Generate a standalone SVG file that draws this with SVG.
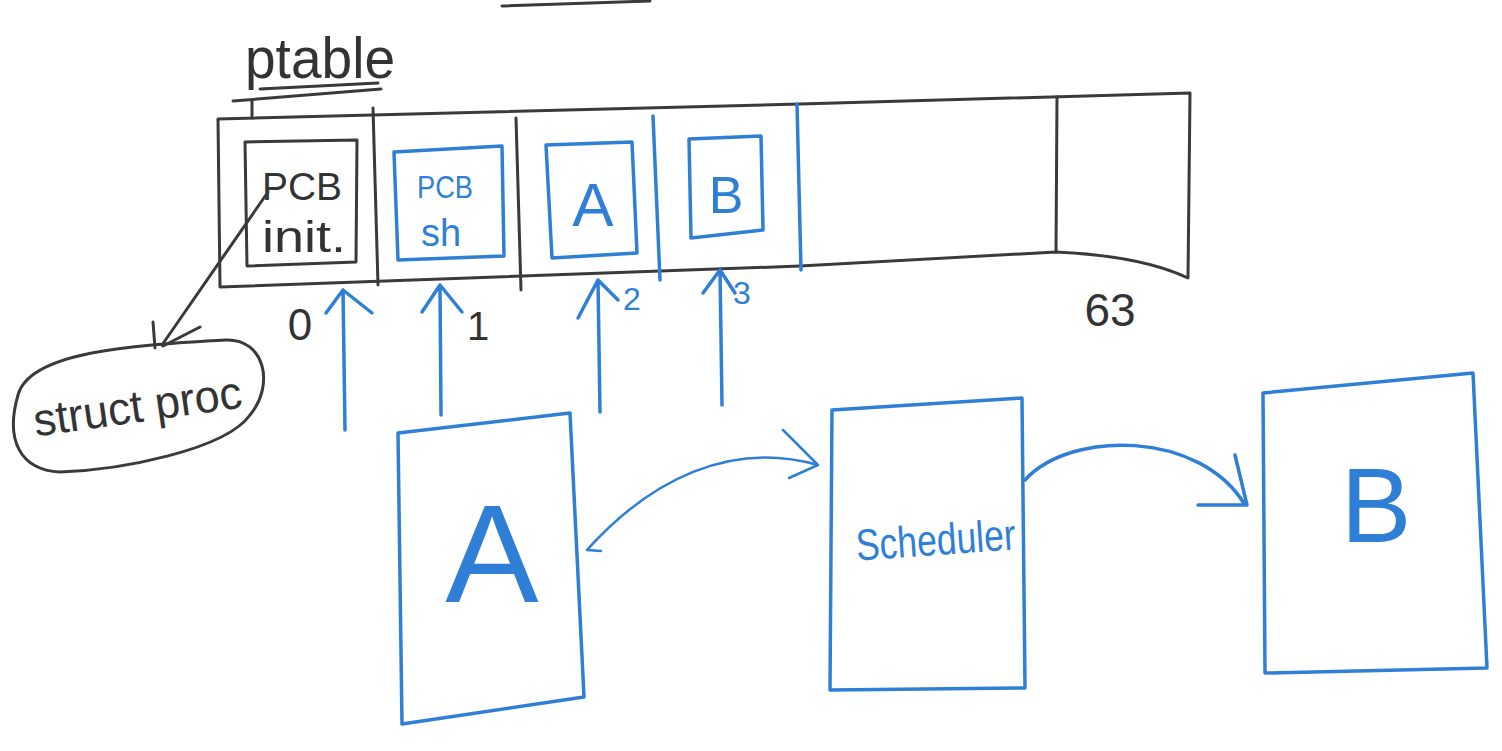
<svg xmlns="http://www.w3.org/2000/svg" width="1502" height="751" viewBox="0 0 1502 751">
<defs>
<style>
.k{fill:none;stroke:#3a3a3a;stroke-width:3;stroke-linecap:round;stroke-linejoin:round}
.b{fill:none;stroke:#2f7fd6;stroke-width:3.5;stroke-linecap:round;stroke-linejoin:round}
.bt{fill:none;stroke:#2f7fd6;stroke-width:2.5;stroke-linecap:round;stroke-linejoin:round}
.tk{font-family:"Liberation Sans",Arial,sans-serif;fill:#333}
.tb{font-family:"Liberation Sans",Arial,sans-serif;fill:#2f7fd6}
</style>
</defs>
<rect width="1502" height="751" fill="#ffffff"/>
<path class="k" d="M502 6 L650 1" stroke-width="2.5"/>
<g id="ptable-title">
<text class="tk" x="245" y="78" font-size="58" textLength="150" lengthAdjust="spacingAndGlyphs">ptable</text>
<path class="k" d="M260 89 L378 83 M233 101 L381 89 M252 101 L252 118"/>
</g>
<g id="ptable">
<path class="k" d="M218 119 L800 104 L1190 93 L1188 278 C1150 260 1100 254 1056 252 L800 266 L220 287 Z"/>
<path class="k" d="M373 108 L378 285 M516 118 L521 290 M1057 97 L1056 252"/>
<path class="b" d="M653 116 L660 280 M797 104 L801 270"/>
</g>
<g id="pcb-init">
<path class="k" d="M245 142 L357 140 L356 262 L247 266 Z"/>
<text class="tk" x="302" y="200" font-size="38" text-anchor="middle" textLength="80" lengthAdjust="spacingAndGlyphs">PCB</text>
<text class="tk" x="304" y="252" font-size="44" text-anchor="middle" textLength="84" lengthAdjust="spacingAndGlyphs">init.</text>
</g>
<g id="pcb-sh">
<path class="b" d="M394 152 L502 146 L504 256 L398 260 Z"/>
<text class="tb" x="445" y="198" font-size="32" text-anchor="middle" textLength="56" lengthAdjust="spacingAndGlyphs">PCB</text>
<text class="tb" x="441" y="246" font-size="38" text-anchor="middle">sh</text>
</g>
<g id="pcb-a">
<path class="b" d="M546 145 L632 142 L637 253 L552 258 Z"/>
<text class="tb" x="593" y="226" font-size="62" text-anchor="middle">A</text>
</g>
<g id="pcb-b">
<path class="b" d="M689 139 L761 136 L763 230 L691 238 Z"/>
<text class="tb" x="726" y="213" font-size="52" text-anchor="middle">B</text>
</g>
<g id="labels">
<text class="tk" x="300" y="340" font-size="44" text-anchor="middle">0</text>
<text class="tk" x="478" y="340" font-size="40" text-anchor="middle">1</text>
<text class="tb" x="632" y="310" font-size="32" text-anchor="middle">2</text>
<text class="tb" x="742" y="304" font-size="32" text-anchor="middle">3</text>
<text class="tk" x="1110" y="326" font-size="46" text-anchor="middle">63</text>
</g>
<g id="struct-proc">
<path class="k" d="M18 395 C30 350 140 345 225 340 C265 338 275 385 250 415 C225 450 120 470 60 472 C20 470 5 440 18 395 Z"/>
<text class="tk" x="138" y="422" font-size="46" text-anchor="middle" textLength="210" lengthAdjust="spacingAndGlyphs" transform="rotate(-8 138 410)">struct proc</text>
</g>
<g id="proc-a">
<path class="b" d="M398 433 L570 413 L584 697 L402 724 Z"/>
<text class="tb" x="492" y="602" font-size="140" text-anchor="middle">A</text>
</g>
<g id="scheduler">
<path class="b" d="M832 410 L1022 398 L1025 688 L830 690 Z"/>
<text class="tb" x="936" y="555" font-size="44" text-anchor="middle" textLength="160" lengthAdjust="spacingAndGlyphs" transform="rotate(-4 936 545)">Scheduler</text>
</g>
<g id="proc-b">
<path class="b" d="M1263 393 L1473 373 L1487 668 L1265 673 Z"/>
<text class="tb" x="1376" y="542" font-size="106" text-anchor="middle">B</text>
</g>
<g id="connectors">
<path class="k" stroke-width="2" d="M268 192 L162 345 M155 348 L153 322 M163 346 L200 327"/>
<path class="b" d="M345 430 L343 290 M326 313 L343 290 L372 313"/>
<path class="b" d="M441 415 L440 285 M422 312 L440 285 L462 312"/>
<path class="b" d="M600 412 L598 280 M578 318 L598 280 L618 300"/>
<path class="b" d="M722 405 L720 270 M703 293 L720 270 L735 293"/>
<path class="bt" d="M587 550 C650 480 730 440 818 465 M783 430 L818 465 L789 478 M587 550 L596 540 M587 550 L601 551"/>
<path class="b" d="M1025 480 C1070 430 1200 430 1245 505 M1235 455 L1247 505 L1198 505"/>
</g>
</svg>
